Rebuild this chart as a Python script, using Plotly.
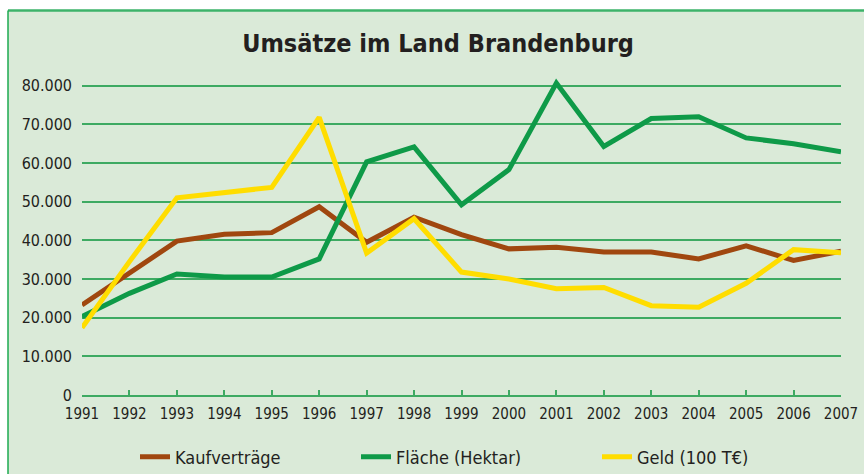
import plotly.graph_objects as go

years = list(range(1991, 2008))
kaufvertraege = [23300, 31500, 39800, 41600, 42000, 48700, 39500, 46000, 41500, 37800, 38200, 37000, 37000, 35200, 38600, 34800, 37200]
flaeche = [20300, 26300, 31300, 30500, 30500, 35200, 60300, 64200, 49200, 58300, 80700, 64300, 71500, 72000, 66500, 65000, 62900]
geld = [17400, 34500, 51000, 52500, 53700, 71800, 36700, 45600, 31800, 30000, 27500, 27800, 23100, 22700, 28900, 37600, 36800]

series_names = ["Kaufverträge", "Fläche (Hektar)", "Geld (100 T€)"]
colors = ["#A0470F", "#0E9A48", "#FFDD00"]
y_ticks = [0, 10000, 20000, 30000, 40000, 50000, 60000, 70000, 80000]

FONT = "DejaVu Sans Condensed, Liberation Sans Narrow, sans-serif"
GRID = "#3DAA62"
TXT = "#231F20"

L, R, T, B = 82, 23, 78, 79
W, H = 864, 474
pw = W - L - R
ph = H - T - B

def px_x(p):
    return (p - L) / pw

def px_y(p):
    return (H - B - p) / ph

legend_names = ["legend", "legend2", "legend3"]
legend_x = [135, 356, 597]

fig = go.Figure()
for name, vals, col, lg in zip(series_names, [kaufvertraege, flaeche, geld], colors, legend_names):
    fig.add_trace(go.Scatter(x=years, y=vals, mode="lines", name=name, legend=lg,
                             line=dict(color=col, width=5), cliponaxis=False))

fig.add_shape(type="rect", xref="paper", yref="paper",
              x0=px_x(8), x1=px_x(870), y0=px_y(480), y1=px_y(10.5),
              fillcolor="#DAEAD8", line=dict(width=0), layer="below")
fig.add_shape(type="line", xref="paper", yref="paper",
              x0=px_x(8), x1=px_x(870), y0=px_y(10.5), y1=px_y(10.5),
              line=dict(color="#3DB36A", width=2.5), layer="below")
fig.add_shape(type="line", xref="paper", yref="paper",
              x0=px_x(8), x1=px_x(8), y0=px_y(480), y1=px_y(10.5),
              line=dict(color="#1DAA50", width=1.5), layer="below")

leg_common = dict(orientation="h", xanchor="left", yanchor="middle", itemwidth=30,
                  bgcolor="rgba(0,0,0,0)", font=dict(family=FONT, size=18, color=TXT))

layout_legends = {}
for lg, lx in zip(legend_names, legend_x):
    layout_legends[lg] = dict(leg_common, x=px_x(lx), y=px_y(457))

fig.update_layout(
    width=W, height=H,
    margin=dict(l=L, r=R, t=T, b=B, pad=0, autoexpand=False),
    paper_bgcolor="white",
    plot_bgcolor="rgba(0,0,0,0)",
    separators=",.",
    title=dict(text="<b>Umsätze im Land Brandenburg</b>", x=px_x(438), xref="paper",
               xanchor="center", y=1 - 43 / H, yanchor="middle",
               font=dict(family=FONT, size=25, color=TXT)),
    xaxis=dict(range=[1991, 2007], tickmode="array", tickvals=years,
               ticktext=[str(y) for y in years], showgrid=False,
               showline=True, linecolor=GRID, linewidth=2,
               ticks="inside", ticklen=5, tickcolor=GRID, tickwidth=1.5,
               ticklabelstandoff=4,
               tickfont=dict(family=FONT, size=15, color=TXT),
               zeroline=False),
    yaxis=dict(range=[0, 82000], tickmode="array", tickvals=y_ticks,
               tickformat=",d", showgrid=True, gridcolor=GRID, gridwidth=1.5,
               zeroline=False, showline=False, ticks="",
               ticklabelstandoff=9,
               tickfont=dict(family=FONT, size=16, color=TXT)),
    showlegend=True,
    **layout_legends,
)

fig.write_html("out.html", config={"displayModeBar": False},
               post_script="document.body.style.margin='0';document.body.style.padding='0';")
